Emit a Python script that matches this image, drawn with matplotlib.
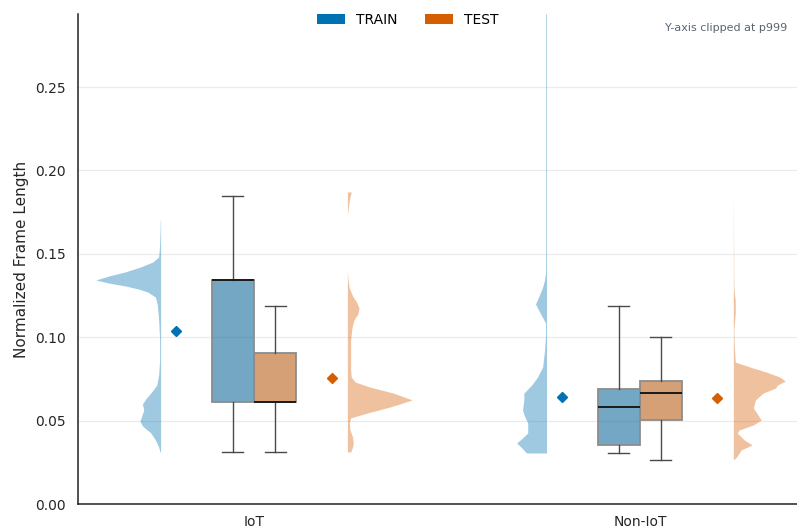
import numpy as np
import matplotlib
matplotlib.use("Agg")
import matplotlib.pyplot as plt
import matplotlib.colors as mcolors
import colorsys
from matplotlib.patches import Patch

# ---------------------------------------------------------------
# data
# ---------------------------------------------------------------
categories = ["IoT", "Non-IoT"]
splits = ["TRAIN", "TEST"]

# box stats per (category, split): whislo, q1, med, q3, whishi
box_whislo = {("IoT", "TRAIN"): 0.0312, ("IoT", "TEST"): 0.0312,
              ("Non-IoT", "TRAIN"): 0.0306, ("Non-IoT", "TEST"): 0.0266}
box_q1 = {("IoT", "TRAIN"): 0.0612, ("IoT", "TEST"): 0.0612,
          ("Non-IoT", "TRAIN"): 0.0354, ("Non-IoT", "TEST"): 0.0502}
box_med = {("IoT", "TRAIN"): 0.1343, ("IoT", "TEST"): 0.0612,
           ("Non-IoT", "TRAIN"): 0.0582, ("Non-IoT", "TEST"): 0.0664}
box_q3 = {("IoT", "TRAIN"): 0.1343, ("IoT", "TEST"): 0.0905,
          ("Non-IoT", "TRAIN"): 0.0689, ("Non-IoT", "TEST"): 0.0737}
box_whishi = {("IoT", "TRAIN"): 0.1847, ("IoT", "TEST"): 0.1187,
              ("Non-IoT", "TRAIN"): 0.1187, ("Non-IoT", "TEST"): 0.1001}
means = {("IoT", "TRAIN"): 0.1037, ("IoT", "TEST"): 0.0755,
         ("Non-IoT", "TRAIN"): 0.0641, ("Non-IoT", "TEST"): 0.0635}

# half-violin density profiles (y value, relative density)
iot_train_y = [0.0312, 0.0342, 0.0384, 0.0426, 0.0468, 0.0498, 0.0528, 0.0564,
               0.0600, 0.0635, 0.0671, 0.0713, 0.0773, 0.0863, 0.0983, 0.1103,
               0.1193, 0.1241, 0.1271, 0.1289, 0.1307, 0.1325, 0.1343, 0.1367,
               0.1391, 0.1421, 0.1451, 0.1481, 0.1553, 0.1643, 0.1703]
iot_train_d = [0.01, 0.03, 0.08, 0.15, 0.28, 0.32, 0.29, 0.26,
               0.28, 0.22, 0.14, 0.06, 0.03, 0.015, 0.015, 0.03,
               0.05, 0.08, 0.20, 0.34, 0.54, 0.80, 1.00, 0.80,
               0.55, 0.31, 0.12, 0.03, 0.015, 0.008, 0.005]

iot_test_y = [0.0312, 0.0342, 0.0366, 0.0402, 0.0444, 0.0486, 0.0516, 0.0546,
              0.0582, 0.0624, 0.0665, 0.0701, 0.0731, 0.0761, 0.0803, 0.0893,
              0.0983, 0.1055, 0.1103, 0.1139, 0.1175, 0.1211, 0.1247, 0.1295,
              0.1343, 0.1403, 0.1733, 0.1763, 0.1823, 0.1871]
iot_test_d = [0.05, 0.08, 0.09, 0.08, 0.04, 0.03, 0.05, 0.31,
              0.66, 1.00, 0.71, 0.35, 0.12, 0.06, 0.05, 0.05,
              0.05, 0.07, 0.10, 0.16, 0.18, 0.14, 0.08, 0.03,
              0.01, 0.0, 0.0, 0.01, 0.03, 0.06]

non_train_y = [0.0306, 0.0336, 0.0366, 0.0396, 0.0426, 0.0456, 0.0486, 0.0528,
               0.0564, 0.0624, 0.0665, 0.0713, 0.0761, 0.0821, 0.0923, 0.1013,
               0.1085, 0.1139, 0.1199, 0.1253, 0.1301, 0.1343, 0.1385, 0.1523,
               0.3100]
non_train_d = [0.31, 0.38, 0.46, 0.37, 0.29, 0.29, 0.29, 0.34,
               0.37, 0.35, 0.35, 0.23, 0.14, 0.06, 0.03, 0.015,
               0.015, 0.09, 0.17, 0.11, 0.06, 0.03, 0.015, 0.012,
               0.012]

non_test_y = [0.0264, 0.0282, 0.0324, 0.0354, 0.0384, 0.0426, 0.0444, 0.0474,
              0.0504, 0.0534, 0.0576, 0.0624, 0.0665, 0.0695, 0.0713, 0.0737,
              0.0761, 0.0791, 0.0821, 0.0851, 0.0953, 0.1043, 0.1145, 0.1223,
              0.1265, 0.1313, 0.1523, 0.1882]
non_test_d = [0.0, 0.05, 0.12, 0.29, 0.17, 0.06, 0.09, 0.31,
              0.43, 0.38, 0.31, 0.34, 0.46, 0.65, 0.68, 0.80,
              0.72, 0.51, 0.26, 0.03, 0.015, 0.008, 0.03, 0.03,
              0.015, 0.008, 0.005, 0.0]

profiles = {("IoT", "TRAIN"): (iot_train_y, iot_train_d),
            ("IoT", "TEST"): (iot_test_y, iot_test_d),
            ("Non-IoT", "TRAIN"): (non_train_y, non_train_d),
            ("Non-IoT", "TEST"): (non_test_y, non_test_d)}

# ---------------------------------------------------------------
# style
# ---------------------------------------------------------------
colors = {"TRAIN": "#0072B2", "TEST": "#D55E00"}


def desaturate(c, prop=0.75):
    r, g, b = mcolors.to_rgb(c)
    h, l, s = colorsys.rgb_to_hls(r, g, b)
    return colorsys.hls_to_rgb(h, l, s * prop)


box_w = 0.109
box_off = {"TRAIN": -0.0545, "TEST": 0.0545}
mean_off = {"TRAIN": -0.201, "TEST": 0.201}
violin_off = {"TRAIN": -0.242, "TEST": 0.242}
violin_width = 0.168

plt.rcParams["font.family"] = "DejaVu Sans"
fig = plt.figure(figsize=(7.97, 5.32), dpi=100)
ax = fig.add_axes([0.0979, 0.0526, 0.9021, 0.9211])

# ---------------------------------------------------------------
# draw
# ---------------------------------------------------------------
for i, cat in enumerate(categories):
    for sp in splits:
        key = (cat, sp)
        col = colors[sp]

        # half violin
        yv = np.array(profiles[key][0])
        dv = np.array(profiles[key][1]) * violin_width
        base = i + violin_off[sp]
        if sp == "TRAIN":
            ax.fill_betweenx(yv, base - dv, base, color=col, alpha=0.38,
                             linewidth=0, zorder=2)
        else:
            ax.fill_betweenx(yv, base, base + dv, color=col, alpha=0.38,
                             linewidth=0, zorder=2)

        # box
        stats = [{"whislo": box_whislo[key], "q1": box_q1[key],
                  "med": box_med[key], "q3": box_q3[key],
                  "whishi": box_whishi[key], "fliers": []}]
        ax.bxp(stats, positions=[i + box_off[sp]], widths=box_w,
               patch_artist=True, showfliers=False, manage_ticks=False,
               boxprops=dict(facecolor=desaturate(col) + (0.6,),
                             edgecolor="#8c8c8c", linewidth=1.3),
               whiskerprops=dict(color="#4a4a4a", linewidth=1.0),
               capprops=dict(color="#4a4a4a", linewidth=1.0),
               medianprops=dict(color="#1a1a1a", linewidth=1.4),
               zorder=3)

        # mean marker
        ax.plot(i + mean_off[sp], means[key], marker="D", markersize=5.5,
                color=col, linestyle="none", zorder=4)

# ---------------------------------------------------------------
# axes
# ---------------------------------------------------------------
ax.set_xlim(-0.456, 1.407)
ax.set_ylim(0, 0.2938)
ax.set_yticks(np.arange(0, 0.26, 0.05))
ax.set_yticklabels([f"{v:.2f}" for v in np.arange(0, 0.26, 0.05)])
ax.set_xticks(range(len(categories)))
ax.set_xticklabels(categories)
ax.tick_params(axis="both", length=0, labelsize=10, labelcolor="#262626")
ax.tick_params(axis="y", pad=9)
ax.tick_params(axis="x", pad=8)
ax.yaxis.grid(True, color="#ebebeb", linewidth=0.9)
ax.set_axisbelow(True)
for s in ["top", "right"]:
    ax.spines[s].set_visible(False)
for s in ["left", "bottom"]:
    ax.spines[s].set_color("#222222")
    ax.spines[s].set_linewidth(1.1)
ax.set_ylabel("Normalized Frame Length", fontsize=11, color="#262626",
              labelpad=4)

ax.text(0.986, 0.971, "Y-axis clipped at p999", transform=ax.transAxes,
        ha="right", va="center", fontsize=8, color="#5a6472")

handles = [Patch(facecolor=colors[sp], edgecolor="none", label=sp)
           for sp in splits]
fig.legend(handles=handles, loc="upper center", bbox_to_anchor=(0.512, 1.0),
           ncol=2, frameon=False, fontsize=10, handlelength=2.0,
           handleheight=0.7, columnspacing=2.0, handletextpad=0.8)

fig.savefig("out.png", dpi=100)
